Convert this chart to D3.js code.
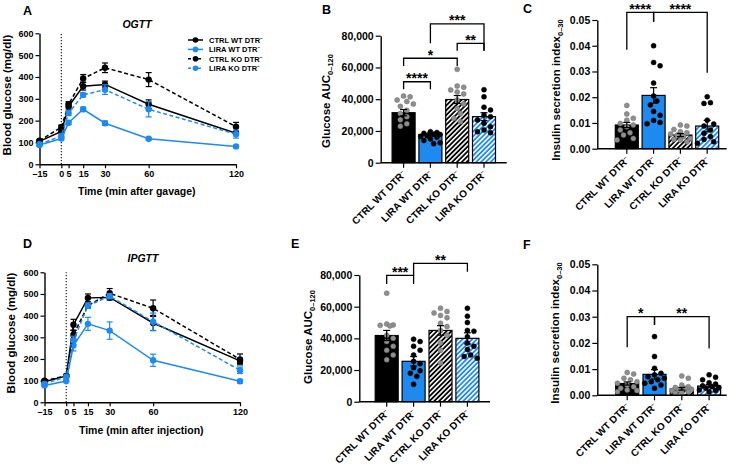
<!DOCTYPE html>
<html>
<head>
<meta charset="utf-8">
<script src="https://cdn.jsdelivr.net/npm/d3@7"></script>
<style>
  body { margin: 0; background: #fff; }
</style>
</head>
<body>
<script>
// ---- data ----
const groups = ["CTRL WT DTR", "LIRA WT DTR", "CTRL KO DTR", "LIRA KO DTR"];
const times = [-15, 0, 5, 15, 30, 60, 120];

// OGTT (panel A)
const ogttCtrlWt = [105, 150, 265, 358, 366, 275, 142];
const ogttCtrlWtSem = [5, 8, 12, 18, 15, 20, 10];
const ogttLiraWt = [88, 118, 190, 252, 188, 117, 82];
const ogttLiraWtSem = [4, 6, 8, 10, 10, 6, 5];
const ogttCtrlKo = [108, 170, 275, 393, 442, 388, 172];
const ogttCtrlKoSem = [5, 10, 12, 18, 22, 32, 20];
const ogttLiraKo = [92, 130, 235, 318, 342, 252, 138];
const ogttLiraKoSem = [4, 8, 12, 10, 22, 35, 18];

// IPGTT (panel D)
const ipgttCtrlWt = [95, 122, 358, 482, 484, 366, 191];
const ipgttCtrlWtSem = [5, 6, 25, 18, 12, 35, 12];
const ipgttLiraWt = [78, 98, 262, 362, 331, 194, 97];
const ipgttLiraWtSem = [4, 5, 25, 30, 40, 28, 8];
const ipgttCtrlKo = [100, 122, 312, 446, 503, 434, 198];
const ipgttCtrlKoSem = [5, 6, 20, 12, 22, 38, 25];
const ipgttLiraKo = [85, 118, 285, 446, 490, 372, 148];
const ipgttLiraKoSem = [5, 6, 20, 12, 12, 40, 15];

// B: glucose AUC, OGTT
const aucOgttMean = [31500, 17800, 39800, 29000];
const aucOgttSem = [2000, 1000, 2500, 2500];
const aucOgttPts = [
  [42000, 41500, 39500, 38500, 37000, 35500, 33000, 31000, 29000, 27000, 24500, 23000],
  [19500, 19000, 18500, 18000, 17800, 17000, 16500, 16000, 15000, 14000, 12500, 12000],
  [58800, 48300, 47500, 45800, 44500, 43300, 39500, 37000, 34200, 31000, 28000, 25800],
  [46000, 41500, 35000, 33200, 30000, 29000, 26900, 24800, 22700, 20600, 19500, 18900]
];
const aucOgttBrackets = [
  [0, 1, 51000, 46200, 46200, "****"],
  [0, 2, 65800, 60900, 60900, "*"],
  [2, 3, 75200, 70500, 70500, "**"],
  [1, 3, 87400, 75200, 70500, "***"]
];

// C: insulin secretion index, OGTT
const isiOgttMean = [0.0092, 0.0207, 0.0053, 0.0088];
const isiOgttSem = [0.001, 0.003, 0.0006, 0.0022];
const isiOgttPts = [
  [0.0168, 0.0135, 0.0118, 0.0111, 0.0098, 0.0092, 0.0085, 0.0073, 0.0062, 0.0053, 0.004, 0.0034],
  [0.040, 0.0335, 0.0322, 0.0255, 0.0205, 0.0185, 0.017, 0.0145, 0.013, 0.011, 0.0102, 0.0097],
  [0.0092, 0.0088, 0.0075, 0.0066, 0.0062, 0.0057, 0.0053, 0.0047, 0.004, 0.0036, 0.0034, 0.0027],
  [0.0202, 0.0179, 0.0176, 0.0111, 0.0096, 0.0088, 0.0073, 0.006, 0.0047, 0.0036, 0.0027, 0.0021]
];
const isiOgttBrackets = [
  [0, 1, 0.0530, 0.0384, 0.0493, "****"],
  [1, 3, 0.0530, 0.0493, 0.0295, "****"]
];

// E: glucose AUC, IPGTT
const aucIpgttMean = [41800, 25500, 45000, 40000];
const aucIpgttSem = [3200, 3000, 3000, 3500];
const aucIpgttPts = [
  [68500, 49000, 48500, 48200, 47800, 42000, 40000, 38000, 35000, 32500, 29500, 26500],
  [39500, 38000, 35000, 32500, 29500, 25500, 24000, 21500, 19500, 18000, 16000, 11000],
  [59000, 57000, 56000, 54500, 53000, 49500, 47500, 45000, 42000, 37000, 32500, 24500],
  [59000, 54000, 50000, 45000, 44500, 41000, 37000, 35000, 33000, 29500, 28500, 27500]
];
const aucIpgttBrackets = [
  [0, 1, 79800, 74300, 74300, "***"],
  [1, 3, 87400, 79800, 82100, "**"]
];

// F: insulin secretion index, IPGTT
const isiIpgttMean = [0.0045, 0.008, 0.0025, 0.0035];
const isiIpgttSem = [0.0006, 0.0018, 0.0005, 0.0006];
const isiIpgttPts = [
  [0.0087, 0.0081, 0.0065, 0.0059, 0.0052, 0.0046, 0.0039, 0.0033, 0.0027, 0.002, 0.0018, 0.0014],
  [0.0224, 0.0148, 0.0103, 0.0084, 0.0078, 0.0071, 0.0065, 0.0059, 0.0052, 0.0046, 0.0039, 0.0027],
  [0.0074, 0.0065, 0.0039, 0.0033, 0.003, 0.0027, 0.0023, 0.002, 0.0018, 0.0014, 0.001, 0.0008],
  [0.0078, 0.0069, 0.0059, 0.0048, 0.0043, 0.0036, 0.003, 0.0027, 0.002, 0.0018, 0.0014, 0.0033]
];
const isiIpgttBrackets = [
  [0, 1, 0.0300, 0.0183, 0.0268, "*"],
  [1, 3, 0.0300, 0.0268, 0.0179, "**"]
];

// ---- drawing ----
const blue = "#1e8af0";
const grey = "#8f8f8f";
const font = "'Liberation Sans', Arial, Helvetica, sans-serif";

const svg = d3.select("body").append("svg")
  .attr("width", 736).attr("height", 471)
  .style("font-family", font).style("font-weight", "bold");

// hatch patterns
const defs = svg.append("defs");
[["hatchK", "#000"], ["hatchB", blue]].forEach(function(h) {
  const p = defs.append("pattern").attr("id", h[0])
    .attr("patternUnits", "userSpaceOnUse")
    .attr("width", 3.4).attr("height", 3.4)
    .attr("patternTransform", "rotate(45)");
  p.append("rect").attr("width", 3.4).attr("height", 3.4).attr("fill", h[1]);
  p.append("rect").attr("width", 1.6).attr("height", 3.4).attr("fill", "#fff");
});

function styleAxis(g, size) {
  g.attr("font-family", null).attr("font-size", null);
  g.selectAll(".domain").attr("stroke-width", 1.4);
  g.selectAll(".tick line").attr("stroke-width", 1.2);
  g.selectAll(".tick text").attr("font-size", size).attr("fill", "#000");
}

// text with the little superscript minus after DTR
function dtrText(sel, name, size) {
  sel.append("tspan").text(name);
  sel.append("tspan").attr("font-size", size * 0.6).attr("dy", -size * 0.38).text("–");
}

function letter(t, x, y) {
  svg.append("text").attr("x", x).attr("y", y).attr("font-size", 12.5).text(t);
}

function linePanel(c, series) {
  const x = d3.scaleLinear().domain([-15, 120]).range([c.left, c.right]);
  const y = d3.scaleLinear().domain([0, 600]).range([c.bottom, c.top]);

  svg.append("line")
    .attr("x1", x(0)).attr("x2", x(0)).attr("y1", y(0)).attr("y2", y(600))
    .attr("stroke", "#222").attr("stroke-width", 1.2).attr("stroke-dasharray", "1.2,1.8");

  const gx = svg.append("g").attr("transform", "translate(0," + c.bottom + ")")
    .call(d3.axisBottom(x).tickValues(times).tickSize(4).tickSizeOuter(0).tickPadding(2)
      .tickFormat(d => d < 0 ? "–" + Math.abs(d) : d));
  styleAxis(gx, 9);
  const gy = svg.append("g").attr("transform", "translate(" + c.left + ",0)")
    .call(d3.axisLeft(y).tickValues(d3.range(0, 601, 100)).tickSize(4).tickSizeOuter(0).tickPadding(2));
  styleAxis(gy, 9);

  const line = d3.line().x((d, i) => x(times[i])).y(d => y(d));

  series.forEach(function(s) {
    const g = svg.append("g");
    s.mean.forEach(function(m, i) {
      const xx = x(times[i]);
      g.append("line").attr("x1", xx).attr("x2", xx)
        .attr("y1", y(m - s.sem[i])).attr("y2", y(m + s.sem[i]))
        .attr("stroke", s.color).attr("stroke-width", 1.2);
      [m - s.sem[i], m + s.sem[i]].forEach(function(v) {
        g.append("line").attr("x1", xx - 3).attr("x2", xx + 3)
          .attr("y1", y(v)).attr("y2", y(v))
          .attr("stroke", s.color).attr("stroke-width", 1.2);
      });
    });
    g.append("path").datum(s.mean).attr("d", line)
      .attr("fill", "none").attr("stroke", s.color).attr("stroke-width", 1.5)
      .attr("stroke-dasharray", s.dashed ? "4,2.5" : null);
    g.selectAll("circle").data(s.mean).join("circle")
      .attr("cx", (d, i) => x(times[i])).attr("cy", d => y(d)).attr("r", 3.2)
      .attr("fill", s.color);
  });

  svg.append("text").attr("x", c.titleX).attr("y", c.titleY)
    .attr("text-anchor", "middle").attr("font-size", 10.5).attr("font-style", "italic")
    .text(c.title);
  svg.append("text").attr("x", (c.left + c.right) / 2 - 1).attr("y", c.xTitleY)
    .attr("text-anchor", "middle").attr("font-size", 10.5).text(c.xTitle);
  svg.append("text")
    .attr("transform", "translate(" + c.yTitleX + "," + c.yTitleY + ") rotate(-90)")
    .attr("text-anchor", "middle").attr("font-size", 11.5).text("Blood glucose (mg/dl)");
  letter(c.letter, c.lx, c.ly);
  return series;
}

// spread the dots sideways so they do not overlap (like a dot plot)
function swarm(vals, y, cx, r, half) {
  const placed = [];
  const order = vals.map((v, i) => i).sort((a, b) => vals[b] - vals[a]);
  const res = new Array(vals.length);
  order.forEach(function(i) {
    const py = y(vals[i]);
    let best = 0, bestD = -1;
    for (let k = 0; k < 24; k++) {
      const off = (k % 2 ? 1 : -1) * Math.ceil(k / 2) * r * 1.3;
      if (Math.abs(off) > half) continue;
      let dmin = Infinity;
      placed.forEach(p => { dmin = Math.min(dmin, Math.hypot(p.x - (cx + off), p.y - py)); });
      if (dmin >= 2 * r + 1) { best = off; bestD = dmin; break; }
      if (dmin > bestD) { bestD = dmin; best = off; }
    }
    placed.push({ x: cx + best, y: py });
    res[i] = { x: cx + best, y: py };
  });
  return res;
}

function barPanel(c, means, sems, pts, brackets) {
  const x = d3.scalePoint().domain(d3.range(4)).range([c.c0, c.c0 + 3 * c.step]);
  const y = d3.scaleLinear().domain([0, c.max]).range([c.bottom, c.top]);
  const bw = 23;
  const fills = ["#000", blue, "url(#hatchK)", "url(#hatchB)"];

  const gy = svg.append("g").attr("transform", "translate(" + c.left + ",0)")
    .call(d3.axisLeft(y).tickValues(c.ticks).tickSize(5).tickSizeOuter(0).tickPadding(2).tickFormat(c.fmt));
  styleAxis(gy, 10.5);

  svg.selectAll(null).data(means).join("rect")
    .attr("x", (d, i) => x(i) - bw / 2).attr("width", bw)
    .attr("y", d => y(d)).attr("height", d => y(0) - y(d))
    .attr("fill", (d, i) => fills[i]).attr("stroke", "#000").attr("stroke-width", 1.2);

  pts.forEach(function(vals, i) {
    const pos = swarm(vals, y, x(i), 2.5, 10);
    svg.append("g").selectAll("circle").data(pos).join("circle")
      .attr("cx", d => d.x).attr("cy", d => d.y).attr("r", 2.5)
      .attr("fill", i % 2 ? "#000" : grey)
      .attr("stroke", i % 2 ? "#000" : "#6e6e6e").attr("stroke-width", 0.5);
  });

  means.forEach(function(m, i) {
    const xx = x(i);
    svg.append("line").attr("x1", xx).attr("x2", xx)
      .attr("y1", y(m - sems[i])).attr("y2", y(m + sems[i]))
      .attr("stroke", "#000").attr("stroke-width", 1.2);
    [m - sems[i], m + sems[i]].forEach(function(v) {
      svg.append("line").attr("x1", xx - 3.5).attr("x2", xx + 3.5)
        .attr("y1", y(v)).attr("y2", y(v)).attr("stroke", "#000").attr("stroke-width", 1.2);
    });
  });

  // x axis with rotated labels
  svg.append("line").attr("x1", c.left).attr("x2", c.right)
    .attr("y1", c.bottom).attr("y2", c.bottom).attr("stroke", "#000").attr("stroke-width", 1.4);
  groups.forEach(function(gname, i) {
    svg.append("line").attr("x1", x(i)).attr("x2", x(i))
      .attr("y1", c.bottom).attr("y2", c.bottom + 5).attr("stroke", "#000").attr("stroke-width", 1.2);
    const t = svg.append("text").attr("text-anchor", "end").attr("font-size", 10)
      .attr("transform", "translate(" + (x(i) + 3) + "," + (c.bottom + 12) + ") rotate(-45)");
    dtrText(t, gname, 10);
  });

  // significance brackets
  brackets.forEach(function(b) {
    const x1 = x(b[0]), x2 = x(b[1]), yy = y(b[2]);
    svg.append("path")
      .attr("d", "M" + x1 + "," + y(b[3]) + "V" + yy + "H" + x2 + "V" + y(b[4]))
      .attr("fill", "none").attr("stroke", "#000").attr("stroke-width", 1.3);
    svg.append("text").attr("x", (x1 + x2) / 2).attr("y", yy + 1.5)
      .attr("text-anchor", "middle").attr("font-size", 14).text(b[5]);
  });

  const yt = svg.append("text")
    .attr("transform", "translate(" + c.yTitleX + "," + c.yTitleY + ") rotate(-90)")
    .attr("text-anchor", "middle").attr("font-size", 11.5);
  yt.append("tspan").text(c.yTitle);
  yt.append("tspan").attr("font-size", 7.5).attr("dy", 2.5).text(c.ySub);
  letter(c.letter, c.lx, c.ly);
}

// panel A
const ogttSeries = [
  { mean: ogttCtrlWt, sem: ogttCtrlWtSem, color: "#000", dashed: false },
  { mean: ogttLiraWt, sem: ogttLiraWtSem, color: blue, dashed: false },
  { mean: ogttCtrlKo, sem: ogttCtrlKoSem, color: "#000", dashed: true },
  { mean: ogttLiraKo, sem: ogttLiraKoSem, color: blue, dashed: true }
];
linePanel({ left: 39.5, right: 236, bottom: 164.3, top: 33.3, title: "OGTT", titleX: 137, titleY: 28,
  xTitle: "Time (min after gavage)", xTitleY: 195, yTitleX: 11, yTitleY: 95, letter: "A", lx: 23, ly: 15 }, ogttSeries);

// legend (panel A)
const leg = svg.append("g");
ogttSeries.forEach(function(s, i) {
  const yy = 40 + i * 9.4;
  leg.append("line").attr("x1", 188).attr("x2", 203).attr("y1", yy).attr("y2", yy)
    .attr("stroke", s.color).attr("stroke-width", 1.5).attr("stroke-dasharray", s.dashed ? "3,2" : null);
  leg.append("circle").attr("cx", 195.5).attr("cy", yy).attr("r", 2.8).attr("fill", s.color);
  const t = leg.append("text").attr("x", 209).attr("y", yy + 2.8).attr("font-size", 7.5);
  dtrText(t, groups[i], 7.5);
});

// panel D
linePanel({ left: 44.5, right: 240, bottom: 402.3, top: 272.3, title: "IPGTT", titleX: 143, titleY: 262,
  xTitle: "Time (min after injection)", xTitleY: 434, yTitleX: 15, yTitleY: 333, letter: "D", lx: 23, ly: 248 }, [
  { mean: ipgttCtrlWt, sem: ipgttCtrlWtSem, color: "#000", dashed: false },
  { mean: ipgttLiraWt, sem: ipgttLiraWtSem, color: blue, dashed: false },
  { mean: ipgttCtrlKo, sem: ipgttCtrlKoSem, color: "#000", dashed: true },
  { mean: ipgttLiraKo, sem: ipgttLiraKoSem, color: blue, dashed: true }
]);

const aucTicks = [0, 20000, 40000, 60000, 80000];
const isiTicks = [0, 0.01, 0.02, 0.03, 0.04, 0.05];

barPanel({ left: 380.7, right: 506.7, bottom: 162.7, top: 35.7, c0: 403.6, step: 26.8, max: 80000,
  ticks: aucTicks, fmt: d3.format(","), yTitle: "Glucose AUC", ySub: "0–120", yTitleX: 330, yTitleY: 101,
  letter: "B", lx: 322, ly: 14 }, aucOgttMean, aucOgttSem, aucOgttPts, aucOgttBrackets);

barPanel({ left: 597.3, right: 726.7, bottom: 148.7, top: 20, c0: 626.8, step: 26.8, max: 0.05,
  ticks: isiTicks, fmt: d3.format(".2f"), yTitle: "Insulin secretion index", ySub: "0–30", yTitleX: 560, yTitleY: 90,
  letter: "C", lx: 523, ly: 13 }, isiOgttMean, isiOgttSem, isiOgttPts, isiOgttBrackets);

barPanel({ left: 359.3, right: 490, bottom: 401.7, top: 275, c0: 386.7, step: 26.9, max: 80000,
  ticks: aucTicks, fmt: d3.format(","), yTitle: "Glucose AUC", ySub: "0–120", yTitleX: 312, yTitleY: 337,
  letter: "E", lx: 291, ly: 248 }, aucIpgttMean, aucIpgttSem, aucIpgttPts, aucIpgttBrackets);

barPanel({ left: 597.3, right: 726.7, bottom: 395.3, top: 264.3, c0: 627.2, step: 27.3, max: 0.05,
  ticks: isiTicks, fmt: d3.format(".2f"), yTitle: "Insulin secretion index", ySub: "0–30", yTitleX: 559, yTitleY: 333,
  letter: "F", lx: 523, ly: 249 }, isiIpgttMean, isiIpgttSem, isiIpgttPts, isiIpgttBrackets);
</script>
</body>
</html>
